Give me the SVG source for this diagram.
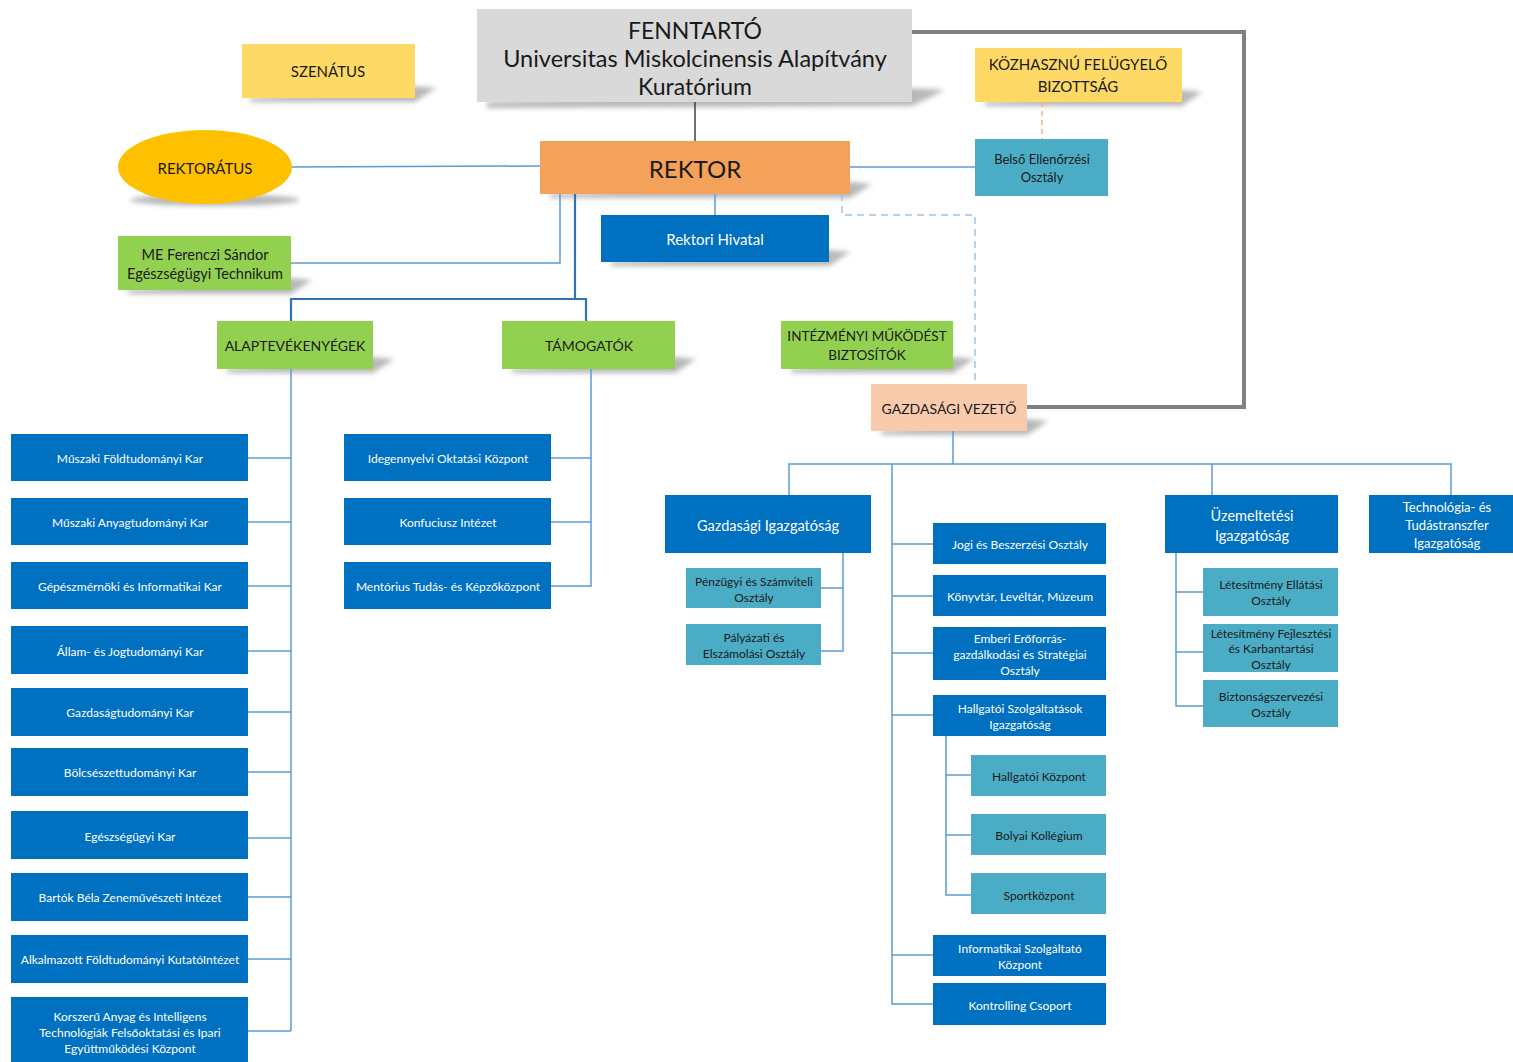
<svg xmlns="http://www.w3.org/2000/svg" width="1513" height="1062" viewBox="0 0 1513 1062">
<style>
text{font-family:Lato,"Open Sans","Liberation Sans",sans-serif;text-anchor:middle;dominant-baseline:central}
.dk{fill:#1a1a1a}
.wt{fill:#ffffff}
.blue{fill:#0070C0}
.teal{fill:#4BACC6}
.green{fill:#92D050}
.yellow{fill:#FFD966}
.sh{fill:#7f7f7f;opacity:.55;filter:url(#blur)}
.c{fill:none;stroke:#5B9BD5;stroke-width:1.5}
.c2{fill:none;stroke:#2E75B6;stroke-width:2.2}
.s12{font-size:12px}
.s13{font-size:13px}
.s15{font-size:15px}
</style>
<defs>
<filter id="blur" x="-20%" y="-50%" width="140%" height="200%"><feGaussianBlur stdDeviation="2.5"/></filter>
</defs>
<g id="shadows">
<polygon class="sh" points="487,102 912,88 945,90 912,106 487,108"/>
<polygon class="sh" points="250,98 415,86 436,88 415,102 250,102"/>
<polygon class="sh" points="985,102 1182,90 1202,92 1182,106 985,106"/>
<ellipse class="sh" cx="215" cy="200" rx="85" ry="6"/>
<polygon class="sh" points="550,194 850,182 872,184 850,198 550,198"/>
<polygon class="sh" points="128,290 291,278 312,280 291,294 128,294"/>
<polygon class="sh" points="611,262 829,250 850,252 829,266 611,266"/>
<polygon class="sh" points="227,369 373,357 394,359 373,373 227,373"/>
<polygon class="sh" points="512,369 675,357 696,359 675,373 512,373"/>
<polygon class="sh" points="791,369 953,357 974,359 953,373 791,373"/>
<polygon class="sh" points="881,431 1027,419 1048,421 1027,435 881,435"/>
</g>
<g id="connectors">
<line x1="695" y1="102" x2="695" y2="141" stroke="#404040" stroke-width="1.5"/>
<polyline points="912,32 1244,32 1244,407 1027,407" fill="none" stroke="#808080" stroke-width="4"/>
<line x1="1042" y1="102" x2="1042" y2="139" stroke="#F4B183" stroke-width="1.5" stroke-dasharray="5,4"/>
<polyline points="842,194 842,215 975,215 975,384" fill="none" stroke="#9DC3E6" stroke-width="1.5" stroke-dasharray="7,5"/>
<line class="c" x1="292" y1="167" x2="540" y2="166"/>
<line class="c" x1="850" y1="167" x2="975" y2="167"/>
<line class="c" x1="715" y1="194" x2="715" y2="215"/>
<polyline class="c" points="291,263 560,263 560,194"/>
<polyline class="c2" points="575,194 575,299"/>
<polyline class="c2" points="291,321 291,299 586,299 586,321"/>
<line class="c" x1="291" y1="369" x2="291" y2="1031"/>
<line class="c" x1="248" y1="458" x2="291" y2="458"/>
<line class="c" x1="248" y1="522" x2="291" y2="522"/>
<line class="c" x1="248" y1="586" x2="291" y2="586"/>
<line class="c" x1="248" y1="651" x2="291" y2="651"/>
<line class="c" x1="248" y1="712" x2="291" y2="712"/>
<line class="c" x1="248" y1="772" x2="291" y2="772"/>
<line class="c" x1="248" y1="838" x2="291" y2="838"/>
<line class="c" x1="248" y1="897" x2="291" y2="897"/>
<line class="c" x1="248" y1="959" x2="291" y2="959"/>
<line class="c" x1="248" y1="1031" x2="291" y2="1031"/>
<polyline class="c" points="591,369 591,586 551,586"/>
<line class="c" x1="551" y1="458" x2="591" y2="458"/>
<line class="c" x1="551" y1="522" x2="591" y2="522"/>
<line class="c" x1="953" y1="431" x2="953" y2="464"/>
<polyline class="c" points="789,495 789,464 1451,464 1451,495"/>
<line class="c" x1="1212" y1="464" x2="1212" y2="495"/>
<polyline class="c" points="892,464 892,1004 933,1004"/>
<line class="c" x1="892" y1="544" x2="933" y2="544"/>
<line class="c" x1="892" y1="596" x2="933" y2="596"/>
<line class="c" x1="892" y1="653" x2="933" y2="653"/>
<line class="c" x1="892" y1="715" x2="933" y2="715"/>
<line class="c" x1="892" y1="955" x2="933" y2="955"/>
<polyline class="c" points="946,736 946,895 971,895"/>
<line class="c" x1="946" y1="775" x2="971" y2="775"/>
<line class="c" x1="946" y1="835" x2="971" y2="835"/>
<polyline class="c" points="843,553 843,651 821,651"/>
<line class="c" x1="821" y1="588" x2="843" y2="588"/>
<polyline class="c" points="1176,553 1176,706 1203,706"/>
<line class="c" x1="1176" y1="592" x2="1203" y2="592"/>
<line class="c" x1="1176" y1="652" x2="1203" y2="652"/>
</g>
<g id="fenntarto"><rect x="477" y="9" width="435" height="93" fill="#D9D9D9"/>
<text class="dk" x="695" y="30" font-size="23">FENNTARTÓ</text>
<text class="dk" x="695" y="58" font-size="23.5">Universitas Miskolcinensis Alapítvány</text>
<text class="dk" x="695" y="86" font-size="23">Kuratórium</text></g>
<g id="szenatus"><rect class="yellow" x="242" y="44" width="173" height="54"/><text class="dk s15" x="328" y="71">SZENÁTUS</text></g>
<g id="kozhasznu"><rect class="yellow" x="975" y="48" width="207" height="54"/><text class="dk s15" x="1078" y="64">KÖZHASZNÚ FELÜGYELŐ</text><text class="dk s15" x="1078" y="86">BIZOTTSÁG</text></g>
<g id="rektoratus"><ellipse cx="205" cy="167" rx="87" ry="37" fill="#FFC000"/><text class="dk s15" x="205" y="168">REKTORÁTUS</text></g>
<g id="rektor"><rect x="540" y="141" width="310" height="53" fill="#F4A259"/><text class="dk" x="695" y="168" font-size="24">REKTOR</text></g>
<g id="belso"><rect class="teal" x="975" y="139" width="133" height="57"/><text class="dk s13" x="1042" y="159">Belső Ellenőrzési</text><text class="dk s13" x="1042" y="177">Osztály</text></g>
<g id="rektori-hivatal"><rect class="blue" x="601" y="215" width="228" height="47"/><text class="wt s15" x="715" y="239">Rektori Hivatal</text></g>
<g id="me-ferenczi"><rect class="green" x="118" y="236" width="173" height="54"/><text class="dk" x="205" y="254" font-size="14.5">ME Ferenczi Sándor</text><text class="dk" x="205" y="273" font-size="14.5">Egészségügyi Technikum</text></g>
<g id="alaptev"><rect class="green" x="217" y="321" width="156" height="48"/><text class="dk" x="295" y="345" font-size="14">ALAPTEVÉKENYÉGEK</text></g>
<g id="tamogatok"><rect class="green" x="502" y="321" width="173" height="48"/><text class="dk" x="589" y="345" font-size="14">TÁMOGATÓK</text></g>
<g id="intezmenyi"><rect class="green" x="781" y="321" width="172" height="48"/><text class="dk" x="867" y="336" font-size="13.5">INTÉZMÉNYI MŰKÖDÉST</text><text class="dk" x="867" y="355" font-size="13.5">BIZTOSÍTÓK</text></g>
<g id="gazdasagi-vezeto"><rect x="871" y="384" width="156" height="47" fill="#F8CBAD"/><text class="dk" x="949" y="408" font-size="14">GAZDASÁGI VEZETŐ</text></g>
<g id="kar1"><rect class="blue" x="11" y="434" width="237" height="47"/><text class="wt s12" x="130" y="458">Műszaki Földtudományi Kar</text></g>
<g id="kar2"><rect class="blue" x="11" y="498" width="237" height="47"/><text class="wt s12" x="130" y="522">Műszaki Anyagtudományi Kar</text></g>
<g id="kar3"><rect class="blue" x="11" y="562" width="237" height="47"/><text class="wt s12" x="130" y="586">Gépészmérnöki és Informatikai Kar</text></g>
<g id="kar4"><rect class="blue" x="11" y="626" width="237" height="48"/><text class="wt s12" x="130" y="651">Állam- és Jogtudományi Kar</text></g>
<g id="kar5"><rect class="blue" x="11" y="688" width="237" height="48"/><text class="wt s12" x="130" y="712">Gazdaságtudományi Kar</text></g>
<g id="kar6"><rect class="blue" x="11" y="748" width="237" height="48"/><text class="wt s12" x="130" y="772">Bölcsészettudományi Kar</text></g>
<g id="kar7"><rect class="blue" x="11" y="811" width="237" height="48"/><text class="wt s12" x="130" y="836">Egészségügyi Kar</text></g>
<g id="kar8"><rect class="blue" x="11" y="873" width="237" height="48"/><text class="wt s12" x="130" y="897">Bartók Béla Zeneművészeti Intézet</text></g>
<g id="kar9"><rect class="blue" x="11" y="935" width="237" height="48"/><text class="wt s12" x="130" y="959">Alkalmazott Földtudományi KutatóIntézet</text></g>
<g id="kar10"><rect class="blue" x="11" y="997" width="237" height="65"/><text class="wt s12" x="130" y="1016">Korszerű Anyag és Intelligens</text><text class="wt s12" x="130" y="1032">Technológiák Felsőoktatási és Ipari</text><text class="wt s12" x="130" y="1048">Együttműködési Központ</text></g>
<g id="idegennyelvi"><rect class="blue" x="344" y="434" width="207" height="47"/><text class="wt s12" x="448" y="458">Idegennyelvi Oktatási Központ</text></g>
<g id="konfuciusz"><rect class="blue" x="344" y="498" width="207" height="47"/><text class="wt s12" x="448" y="522">Konfuciusz Intézet</text></g>
<g id="mentorius"><rect class="blue" x="344" y="562" width="207" height="47"/><text class="wt s12" x="448" y="586">Mentórius Tudás- és Képzőközpont</text></g>
<g id="gazd-ig"><rect class="blue" x="665" y="495" width="206" height="58"/><text class="wt" x="768" y="525" font-size="14.5">Gazdasági Igazgatóság</text></g>
<g id="penzugyi"><rect class="teal" x="686" y="568" width="135" height="40"/><text class="dk s12" x="754" y="581">Pénzügyi és Számviteli</text><text class="dk s12" x="754" y="597">Osztály</text></g>
<g id="palyazati"><rect class="teal" x="686" y="624" width="135" height="41"/><text class="dk s12" x="754" y="637">Pályázati és</text><text class="dk s12" x="754" y="653">Elszámolási Osztály</text></g>
<g id="jogi"><rect class="blue" x="933" y="523" width="173" height="41"/><text class="wt s12" x="1020" y="544">Jogi és Beszerzési Osztály</text></g>
<g id="konyvtar"><rect class="blue" x="933" y="575" width="173" height="41"/><text class="wt s12" x="1020" y="596">Könyvtár, Levéltár, Múzeum</text></g>
<g id="emberi"><rect class="blue" x="933" y="627" width="173" height="53"/><text class="wt s12" x="1020" y="638">Emberi Erőforrás-</text><text class="wt s12" x="1020" y="654">gazdálkodási és Stratégiai</text><text class="wt s12" x="1020" y="670">Osztály</text></g>
<g id="hallgatoi-szolg"><rect class="blue" x="933" y="695" width="173" height="41"/><text class="wt s12" x="1020" y="708">Hallgatói Szolgáltatások</text><text class="wt s12" x="1020" y="724">Igazgatóság</text></g>
<g id="hallgatoi-kp"><rect class="teal" x="971" y="755" width="135" height="41"/><text class="dk s12" x="1039" y="776">Hallgatói Központ</text></g>
<g id="bolyai"><rect class="teal" x="971" y="814" width="135" height="41"/><text class="dk s12" x="1039" y="835">Bolyai Kollégium</text></g>
<g id="sport"><rect class="teal" x="971" y="873" width="135" height="41"/><text class="dk s12" x="1039" y="895">Sportközpont</text></g>
<g id="informatikai"><rect class="blue" x="933" y="935" width="173" height="41"/><text class="wt s12" x="1020" y="948">Informatikai Szolgáltató</text><text class="wt s12" x="1020" y="964">Központ</text></g>
<g id="kontrolling"><rect class="blue" x="933" y="983" width="173" height="42"/><text class="wt s12" x="1020" y="1005">Kontrolling Csoport</text></g>
<g id="uzem-ig"><rect class="blue" x="1165" y="495" width="173" height="58"/><text class="wt" x="1252" y="515" font-size="14.5">Üzemeltetési</text><text class="wt" x="1252" y="535" font-size="14.5">Igazgatóság</text></g>
<g id="letesitmeny-ell"><rect class="teal" x="1203" y="568" width="135" height="48"/><text class="dk s12" x="1271" y="584">Létesítmény Ellátási</text><text class="dk s12" x="1271" y="600">Osztály</text></g>
<g id="letesitmeny-fejl"><rect class="teal" x="1203" y="624" width="135" height="48"/><text class="dk s12" x="1271" y="633">Létesítmény Fejlesztési</text><text class="dk s12" x="1271" y="648">és Karbantartási</text><text class="dk s12" x="1271" y="664">Osztály</text></g>
<g id="biztonsag"><rect class="teal" x="1203" y="680" width="135" height="47"/><text class="dk s12" x="1271" y="696">Biztonságszervezési</text><text class="dk s12" x="1271" y="712">Osztály</text></g>
<g id="technologia"><rect class="blue" x="1369" y="495" width="144" height="58"/><text class="wt s13" x="1447" y="507">Technológia- és</text><text class="wt s13" x="1447" y="525">Tudástranszfer</text><text class="wt s13" x="1447" y="543">Igazgatóság</text></g>
</svg>
